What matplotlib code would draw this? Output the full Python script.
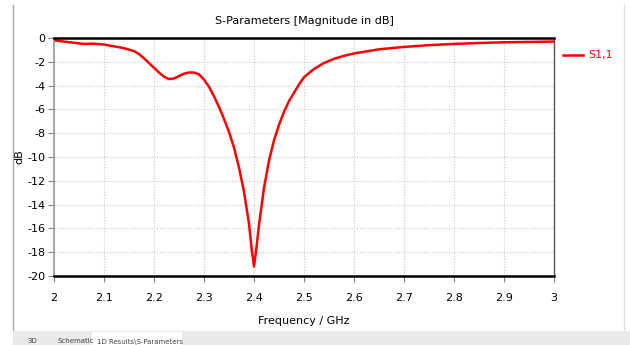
import numpy as np
import matplotlib
matplotlib.use("Agg")
import matplotlib.pyplot as plt
from matplotlib.lines import Line2D
from matplotlib.patches import Rectangle

# S11 (GHz, dB)
freq = [2.00, 2.02, 2.04, 2.06, 2.08, 2.10, 2.12, 2.14, 2.16, 2.17, 2.18,
        2.19, 2.20, 2.21, 2.22, 2.23, 2.24, 2.25, 2.26, 2.27, 2.28, 2.29,
        2.30, 2.31, 2.32, 2.33, 2.34, 2.35, 2.36, 2.37, 2.38, 2.39, 2.395,
        2.40, 2.405, 2.41, 2.42, 2.43, 2.44, 2.45, 2.46, 2.47, 2.48, 2.49,
        2.50, 2.52, 2.54, 2.56, 2.58, 2.60, 2.65, 2.70, 2.75, 2.80, 2.85,
        2.90, 2.95, 3.00]
s11 = [-0.20, -0.30, -0.40, -0.50, -0.48, -0.55, -0.70, -0.85, -1.10, -1.35,
       -1.70, -2.10, -2.50, -2.90, -3.25, -3.45, -3.40, -3.20, -3.00, -2.90,
       -2.90, -3.05, -3.50, -4.10, -4.90, -5.80, -6.80, -7.90, -9.20, -10.90,
       -12.90, -15.60, -17.60, -19.20, -17.60, -15.70, -12.60, -10.30, -8.60,
       -7.30, -6.20, -5.30, -4.60, -3.90, -3.30, -2.60, -2.10, -1.75, -1.50,
       -1.30, -0.95, -0.75, -0.60, -0.50, -0.42, -0.36, -0.33, -0.30]

xticks = [2, 2.1, 2.2, 2.3, 2.4, 2.5, 2.6, 2.7, 2.8, 2.9, 3]
xlabels = ["2", "2.1", "2.2", "2.3", "2.4", "2.5", "2.6", "2.7", "2.8", "2.9", "3"]
yticks = list(range(0, -21, -2))

plt.rcParams['font.family'] = ['DejaVu Sans']
plt.rcParams['axes.unicode_minus'] = False
fig = plt.figure(figsize=(6.3, 3.45), dpi=100)
ax = fig.add_axes([54 / 630, 1 - 276 / 345, 500 / 630, 238 / 345])

ax.plot(freq, s11, color='#ff0000', lw=1.8)
ax.set_xlim(2, 3)
ax.set_ylim(-20, 0)
ax.set_xticks(xticks)
ax.set_xticklabels(xlabels)
ax.set_yticks(yticks)
ax.tick_params(labelsize=8, length=4, color='#888888', direction='out', pad=8)
ax.tick_params(axis='y', pad=2)
ax.grid(True, ls=(0, (1, 1.5)), color='#c8c8c8', lw=0.8)

for side in ['top', 'bottom']:
    ax.spines[side].set_linewidth(1.8)
    ax.spines[side].set_color('black')
ax.spines['left'].set_color('#999999')
ax.spines['left'].set_linewidth(1.2)
ax.spines['right'].set_color('#555555')
ax.spines['right'].set_linewidth(1.0)

ax.set_title("S-Parameters [Magnitude in dB]", fontsize=8, pad=10)
ax.set_xlabel("Frequency / GHz", fontsize=8)
ax.set_ylabel("dB", fontsize=8)
ax.xaxis.set_label_coords(0.5, -0.17)
ax.yaxis.set_label_coords(-0.06, 0.5)

# legend
fig.add_artist(Line2D([563 / 630, 583 / 630], [1 - 55 / 345, 1 - 55 / 345],
                      color='#ff0000', lw=1.8))
fig.text(588 / 630, 1 - 55 / 345, "S1,1", color='#ff0000', fontsize=8,
         va='center', ha='left')

# window frame and tab bar
fig.add_artist(Line2D([13 / 630, 13 / 630], [1 - 330 / 345, 1 - 5 / 345],
                      color='#aaaaaa', lw=1.0))
fig.add_artist(Line2D([624 / 630, 624 / 630], [1 - 330 / 345, 1 - 5 / 345],
                      color='#e0e0e0', lw=1.0))
fig.add_artist(Rectangle((13 / 630, 0), 617 / 630, 14 / 345,
                         color='#e9e9e9', lw=0))
fig.add_artist(Rectangle((92 / 630, 0), 90 / 630, 13 / 345,
                         color='white', lw=0))
fig.text(27 / 630, 2 / 345, "3D", fontsize=5, color='#444444')
fig.text(57 / 630, 2 / 345, "Schematic", fontsize=5, color='#444444')
fig.text(97 / 630, 1 / 345, "1D Results\\S-Parameters", fontsize=5,
         color='#444444')

fig.savefig("out.png", dpi=100)
